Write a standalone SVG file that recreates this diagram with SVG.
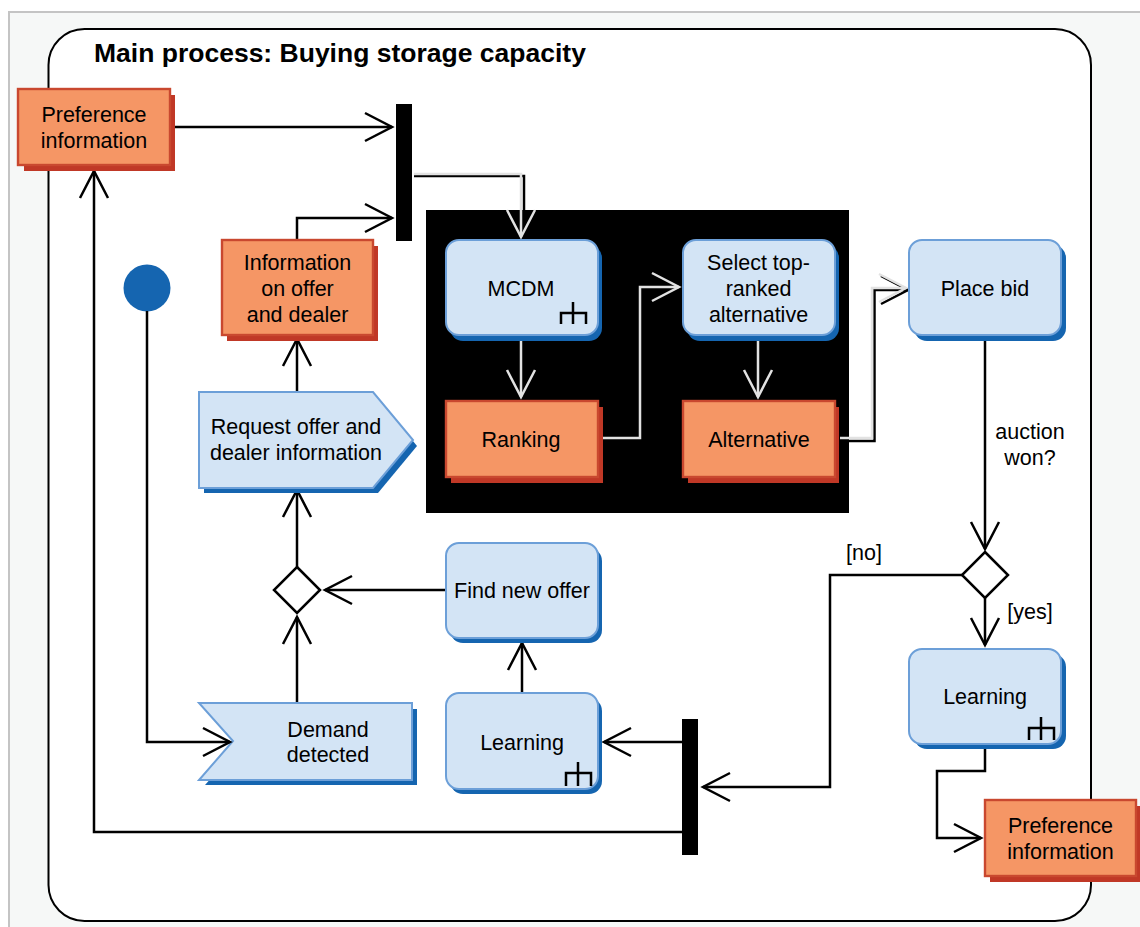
<svg xmlns="http://www.w3.org/2000/svg" width="1140" height="927" viewBox="0 0 1140 927">
<style>
text{font-family:"Liberation Sans",Arial,sans-serif;font-size:21.500px;fill:#000;text-anchor:middle}
.title{font-size:26.500px;font-weight:bold;text-anchor:start}
.c{fill:none;stroke:#000;stroke-width:2.500;marker-end:url(#open)}
.p{fill:none;stroke:#000;stroke-width:2.500}
.w{fill:none;stroke:#e2e2e2;stroke-width:2.500;marker-end:url(#openw)}
.act{fill:#d3e4f5;stroke:#6c9fd8;stroke-width:2}
.sha{fill:#1565b0}
.obj{fill:#f59665;stroke:#c9482f;stroke-width:2.400}
.shr{fill:#c03826}
.bar{fill:#000}
.dia{fill:#fff;stroke:#000;stroke-width:2.500}
.ico{fill:none;stroke:#000;stroke-width:2.500}
</style>
<defs>
<marker id="open" markerUnits="userSpaceOnUse" markerWidth="34" markerHeight="34" viewBox="-30 -17 34 34" refX="0" refY="0" orient="auto"><path d="M-27,-14 L0,0 L-27,14" fill="none" stroke="#000" stroke-width="2.500"/></marker>
<marker id="openw" markerUnits="userSpaceOnUse" markerWidth="34" markerHeight="34" viewBox="-30 -17 34 34" refX="0" refY="0" orient="auto"><path d="M-27,-14 L0,0 L-27,14" fill="none" stroke="#e2e2e2" stroke-width="2.500"/></marker>
</defs>
<rect x="0" y="0" width="1140" height="927" fill="#fff"/>
<rect x="9" y="12" width="1140" height="930" fill="#f6f8f7" stroke="#c4c4c4" stroke-width="2"/>
<rect id="frame" x="48.500" y="29" width="1042.500" height="892" rx="36" ry="36" fill="#fff" stroke="#000" stroke-width="2"/>
<text class="title" x="94" y="62">Main process: Buying storage capacity</text>
<rect id="highlight" x="426" y="210" width="423" height="303" fill="#000"/>
<g id="connectors">
<path class="c" d="M175,127 H392"/>
<path class="c" d="M297,240 V218 H392"/>
<path class="p" d="M414,176 H524 V210"/>
<path class="w" d="M414,174 H521 V237"/>
<path class="w" d="M521,340 V397"/>
<path class="w" d="M603,438 H640 V287 H679"/>
<path class="w" d="M758,340 V397"/>
<path class="c" d="M840,441 H874.500 V290 H908"/>
<path class="w" d="M840,438 H872 V288 H906"/>
<path class="c" d="M985,340 V549"/>
<path class="c" d="M985,598 V645"/>
<path class="c" d="M962,575 H830 V787 H703"/>
<path class="c" d="M985,748 V771 H937 V838 H981"/>
<path class="c" d="M682,742 H604"/>
<path class="c" d="M682,832 H94 V171"/>
<path class="c" d="M297,703 V617"/>
<path class="c" d="M297,567 V490"/>
<path class="c" d="M446,590 H325"/>
<path class="c" d="M522,693 V643"/>
<path class="c" d="M297,392 V339"/>
</g>
<g id="pref1"><rect class="shr" x="24" y="95" width="151" height="76"/><rect class="obj" x="18" y="89" width="152" height="76"/><text x="94" y="122">Preference</text><text x="94" y="148">information</text></g>
<g id="info"><rect class="shr" x="227" y="246" width="151" height="95"/><rect class="obj" x="222" y="240" width="151" height="95"/><text x="297.500" y="270">Information</text><text x="297.500" y="296">on offer</text><text x="297.500" y="322">and dealer</text></g>
<rect id="bar1" class="bar" x="396" y="104" width="16" height="137"/>
<circle id="start" cx="147" cy="288" r="23.500" fill="#1565b0"/>
<g id="mcdm"><rect class="sha" x="450" y="245" width="152" height="96" rx="13"/><rect class="act" x="446" y="240" width="152" height="95" rx="13"/><text x="521" y="296">MCDM</text><path class="ico" d="M561,324 V313 H586 V324 M573,302 V324"/></g>
<g id="select"><rect class="sha" x="687" y="245" width="152" height="96" rx="13"/><rect class="act" x="683" y="240" width="152" height="95" rx="13"/><text x="758.500" y="270">Select top-</text><text x="758.500" y="296">ranked</text><text x="758.500" y="322">alternative</text></g>
<g id="ranking"><rect class="shr" x="451" y="407" width="152" height="76"/><rect class="obj" x="446" y="401" width="152" height="76"/><text x="521" y="447">Ranking</text></g>
<g id="alternative"><rect class="shr" x="688" y="407" width="151" height="76"/><rect class="obj" x="683" y="401" width="152" height="76"/><text x="759" y="447">Alternative</text></g>
<g id="placebid"><rect class="sha" x="914" y="245" width="152" height="96" rx="13"/><rect class="act" x="909" y="240" width="152" height="95" rx="13"/><text x="985" y="296">Place bid</text></g>
<g id="request"><path class="sha" d="M204,493 H378 L417,446 L378,398 H204 Z"/><path class="act" d="M199,392 H373 L413,440 L373,488 H199 Z"/><text x="296" y="434">Request offer and</text><text x="296" y="460">dealer information</text></g>
<g id="demand"><path class="sha" d="M205,709 H417 V785 H205 L239,747 Z"/><path class="act" d="M199,703 H412 V780 H199 L233,741 Z"/><text x="328" y="737">Demand</text><text x="328" y="762">detected</text></g>
<g id="learning1"><rect class="sha" x="450" y="698" width="152" height="96" rx="13"/><rect class="act" x="446" y="693" width="152" height="96" rx="13"/><text x="522" y="750">Learning</text><path class="ico" d="M566,786 V773 H591 V786 M578,762 V786"/></g>
<g id="findoffer"><rect class="sha" x="450" y="548" width="152" height="95" rx="13"/><rect class="act" x="446" y="543" width="152" height="95" rx="13"/><text x="522" y="598">Find new offer</text></g>
<path id="diamond1" class="dia" d="M297,567 L320,590 L297,613 L274,590 Z"/>
<path id="diamond2" class="dia" d="M985,552 L1008,575 L985,598 L962,575 Z"/>
<rect id="bar2" class="bar" x="682" y="719" width="16" height="136"/>
<g id="learning2"><rect class="sha" x="914" y="654" width="152" height="95" rx="13"/><rect class="act" x="909" y="649" width="152" height="95" rx="13"/><text x="985" y="704">Learning</text><path class="ico" d="M1029,740 V728 H1054 V740 M1041,717 V740"/></g>
<g id="pref2"><rect class="shr" x="990" y="806" width="150" height="76"/><rect class="obj" x="985" y="800" width="151" height="76"/><text x="1060.500" y="833">Preference</text><text x="1060.500" y="859">information</text></g>
<g id="connectors-over"><path class="c" d="M147,311 V742 H230"/></g>
<g id="labels"><text x="1030" y="439">auction</text><text x="1030" y="465">won?</text><text x="864" y="560">[no]</text><text x="1030" y="619">[yes]</text></g>
</svg>
